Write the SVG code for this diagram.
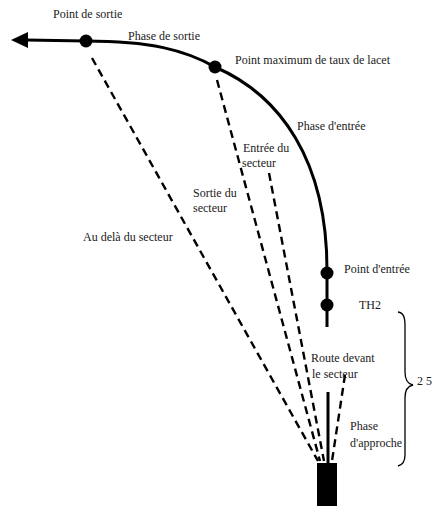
<svg xmlns="http://www.w3.org/2000/svg" width="439" height="506" viewBox="0 0 439 506">
<defs>
<style>
.t{font-family:"Liberation Serif","Times New Roman",serif;font-size:12px;fill:#1a1a1a}
.path{fill:none;stroke:#000;stroke-width:3}
.dash{fill:none;stroke:#000;stroke-width:2.4;stroke-dasharray:8 5}
.dot{fill:#000}
</style>
</defs>
<rect width="439" height="506" fill="#fff"/>
<g id="connectors">
<path class="path" d="M86,41 L26,40"/>
<path d="M11,40 L28,32 L28,48 Z" fill="#000"/>
<path class="path" d="M86,41 C150,41 185,50 215,67 C280,95 327,160 327,270 L327,327"/>
<line class="path" x1="328" y1="392" x2="328" y2="463"/>
<line class="dash" x1="92" y1="58" x2="318" y2="461"/>
<line class="dash" x1="217" y1="80" x2="320" y2="461"/>
<line class="dash" x1="269" y1="173" x2="324" y2="461"/>
<line class="dash" x1="345" y1="375" x2="332" y2="461"/>
<path d="M398,312 C404,313 405,318 405,326 L405,372 C405,380 408,384 413,385 C408,386 405,390 405,398 L405,455 C405,462 402,465 398,466" fill="none" stroke="#000" stroke-width="1.3"/>
</g>
<g id="runway"><rect x="317" y="463" width="20" height="43" fill="#000"/></g>
<g id="point-sortie"><circle class="dot" cx="86" cy="41" r="6.5"/><text class="t" x="53" y="18">Point de sortie</text></g>
<g id="phase-sortie"><text class="t" x="128" y="40">Phase de sortie</text></g>
<g id="point-max"><circle class="dot" cx="215" cy="67" r="6.5"/><text class="t" x="235" y="64">Point maximum de taux de lacet</text></g>
<g id="phase-entree"><text class="t" x="297" y="130">Phase d'entrée</text></g>
<g id="entree-secteur"><text class="t" x="243" y="152">Entrée du</text><text class="t" x="242" y="167">secteur</text></g>
<g id="sortie-secteur"><text class="t" x="193" y="197">Sortie du</text><text class="t" x="193" y="212">secteur</text></g>
<g id="au-dela"><text class="t" x="83" y="241">Au delà du secteur</text></g>
<g id="point-entree"><circle class="dot" cx="327" cy="273" r="6.5"/><text class="t" x="344" y="273">Point d'entrée</text></g>
<g id="th2"><circle class="dot" cx="327" cy="305" r="6.5"/><text class="t" x="359" y="309">TH2</text></g>
<g id="route-devant"><text class="t" x="311" y="362">Route devant</text><text class="t" x="312" y="378">le secteur</text></g>
<g id="phase-approche"><text class="t" x="350" y="430">Phase</text><text class="t" x="350" y="447">d'approche</text></g>
<g id="distance"><text class="t" x="417" y="385">2 5</text></g>
</svg>
